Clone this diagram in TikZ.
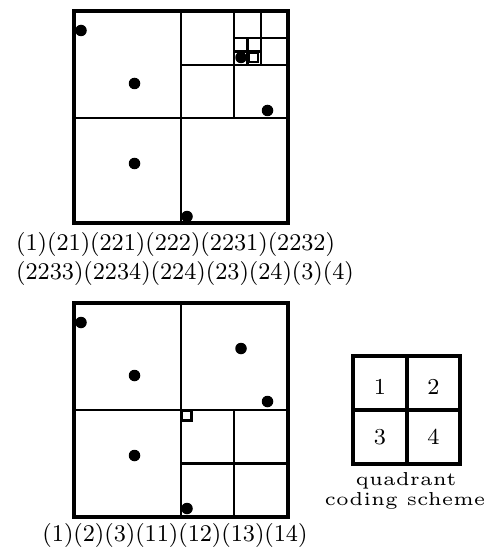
\documentclass[tikz,border=0pt]{standalone}
\usepackage{graphicx}
\begin{document}
\begin{tikzpicture}[x=1pt,y=-1pt,
  outer/.style={line width=3.2pt},
  inner/.style={line width=2.6pt},
  dot/.style={circle,fill=black,inner sep=0pt,minimum size=11.5pt},
  hollow/.style={draw,line width=2.4pt,fill=white,inner sep=0pt,minimum size=9pt},
  lbl/.style={inner sep=0pt,font=\fontsize{8}{9}\selectfont},
  captext/.style={inner sep=0pt,scale=3.75,font=\fontsize{5}{6}\selectfont},
  qnum/.style={inner sep=0pt,scale=2.85,font=\fontsize{8}{9}\selectfont}]
\useasboundingbox (0,0) rectangle (489,548);
% ---------- top quadtree ----------
\draw[inner] (181,11) -- (181,223) (74,118) -- (288,118);
\draw[inner] (234,11) -- (234,118) (181,65) -- (288,65);
\draw[inner] (261,11) -- (261,65) (234,38) -- (288,38);
\draw[inner] (247.5,38) -- (247.5,65) (234,51.5) -- (261,51.5);
\draw[outer] (74,11) rectangle (288,223);
\node[dot] (t1) at (81,30.5) {};
\node[dot] (t2) at (134.5,83.5) {};
\node[dot] (t3) at (134.5,163.5) {};
\node[dot] (t4) at (187,216.5) {};
\node[dot] (t5) at (267.5,110.5) {};
\node[dot] (t6) at (241,57.5) {};
\node[hollow] (ts) at (253.5,57.5) {};
\node[lbl,anchor=base west] (l1) at (16,250) {\scalebox{2.85}[3.0]{(1)(21)(221)(222)(2231)(2232)}};
\node[lbl,anchor=base west] (l2) at (16,279) {\scalebox{2.85}[3.0]{(2233)(2234)(224)(23)(24)(3)(4)}};
% ---------- bottom quadtree ----------
\draw[inner] (181,303) -- (181,517) (74,410) -- (288,410);
\draw[inner] (234,410) -- (234,517) (181,463.5) -- (288,463.5);
\draw[outer] (74,303) rectangle (288,517);
\node[dot] (b1) at (81,322.5) {};
\node[dot] (b2) at (134.5,375.5) {};
\node[dot] (b3) at (134.5,455.5) {};
\node[dot] (b4) at (241,348.5) {};
\node[dot] (b5) at (267.5,401.5) {};
\node[dot] (b6) at (187,508.5) {};
\node[hollow,minimum size=10pt] (bs) at (186.5,415.5) {};
\node[lbl,anchor=base] (l3) at (175,541) {\scalebox{2.85}[3.0]{(1)(2)(3)(11)(12)(13)(14)}};
% ---------- quadrant coding scheme ----------
\draw[outer] (407,356) -- (407,464) (353,410) -- (460,410);
\draw[outer] (353,356) rectangle (460,464);
\node[qnum] (q1) at (380,387) {1};
\node[qnum] (q2) at (433.5,387) {2};
\node[qnum] (q3) at (380,437) {3};
\node[qnum] (q4) at (433.5,437) {4};
\node[captext,anchor=base] (c1) at (406,485) {quadrant};
\node[captext,anchor=base] (c2) at (405,505) {coding scheme};
\end{tikzpicture}
\end{document}
